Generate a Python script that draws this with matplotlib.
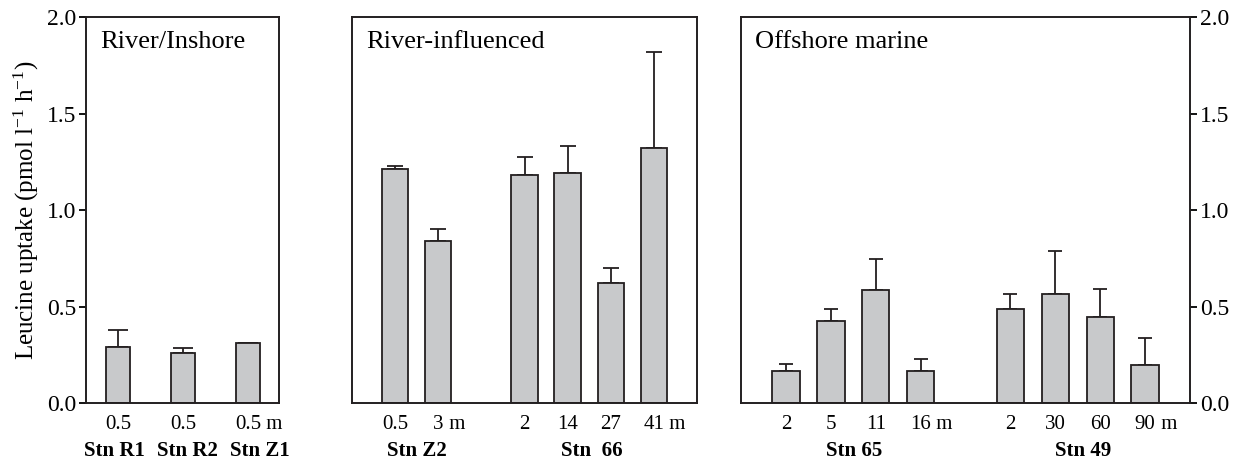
import matplotlib
matplotlib.use("Agg")
import matplotlib.pyplot as plt
import numpy as np

plt.rcParams['font.family'] = ['Liberation Serif', 'DejaVu Serif']
plt.rcParams['mathtext.fontset'] = 'custom'
plt.rcParams['mathtext.rm'] = 'Liberation Serif'
plt.rcParams['mathtext.it'] = 'Liberation Serif:italic'

# ---------------- data ----------------
# Panel 1: River/Inshore
p1_pos = [0, 1, 2]
p1_labels = ["0.5", "0.5", "0.5"]
p1_vals = [0.29, 0.26, 0.31]
p1_err = [0.09, 0.027, 0.0]
p1_stations = ["Stn R1", "Stn R2", "Stn Z1"]
p1_station_pos = [-0.05, 1.07, 2.18]

# Panel 2: River-influenced
p2_pos = [0, 1, 3, 4, 5, 6]
p2_labels = ["0.5", "3", "2", "14", "27", "41"]
p2_vals = [1.21, 0.84, 1.18, 1.19, 0.62, 1.32]
p2_err = [0.02, 0.06, 0.095, 0.14, 0.08, 0.50]
p2_stations = ["Stn Z2", "Stn  66"]
p2_station_pos = [0.5, 4.55]

# Panel 3: Offshore marine
p3_pos = [0, 1, 2, 3, 5, 6, 7, 8]
p3_labels = ["2", "5", "11", "16", "2", "30", "60", "90"]
p3_vals = [0.165, 0.425, 0.585, 0.165, 0.485, 0.565, 0.445, 0.195]
p3_err = [0.035, 0.062, 0.16, 0.062, 0.08, 0.223, 0.147, 0.143]
p3_stations = ["Stn 65", "Stn 49"]
p3_station_pos = [1.52, 6.62]

panel_titles = ["River/Inshore", "River-influenced", "Offshore marine"]
yticks = [0.0, 0.5, 1.0, 1.5, 2.0]

BAR_COLOR = '#c8c9cb'
EDGE = '#231f20'

fig = plt.figure(figsize=(12.4, 4.62), dpi=100)
bottom, height = 0.1277, 0.8355
ax1 = fig.add_axes([0.0694, bottom, 0.1556, height])
ax2 = fig.add_axes([0.2839, bottom, 0.2782, height])
ax3 = fig.add_axes([0.5976, bottom, 0.3621, height])

panels = [
    (ax1, p1_pos, p1_labels, p1_vals, p1_err, p1_stations, p1_station_pos, (-0.49, 2.48), 0.37, 7, [2]),
    (ax2, p2_pos, p2_labels, p2_vals, p2_err, p2_stations, p2_station_pos, (-1.0, 7.0), 0.61, 5.5, [1, 5]),
    (ax3, p3_pos, p3_labels, p3_vals, p3_err, p3_stations, p3_station_pos, (-1.0, 9.0), 0.61, 5, [3, 7]),
]

for i, (ax, pos, labels, vals, err, stations, spos, xlim, width, cap, m_idx) in enumerate(panels):
    ax.bar(pos, vals, width=width, color=BAR_COLOR, edgecolor=EDGE, linewidth=1.3, zorder=2)
    e = np.array(err)
    ax.errorbar(pos, vals, yerr=[np.zeros_like(e), e], fmt='none', ecolor=EDGE,
                elinewidth=1.3, capsize=cap, capthick=1.3, zorder=1)
    ax.set_xlim(*xlim)
    ax.set_ylim(0, 2.0)
    for sp in ax.spines.values():
        sp.set_linewidth(1.4)
        sp.set_color(EDGE)
    ax.set_xticks(pos)
    ax.set_xticklabels(labels, fontsize=15)
    ax.tick_params(axis='x', length=0, pad=8.5)
    ax.set_yticks(yticks)
    if i == 0:
        ax.set_yticklabels([f"{t:.1f}" for t in yticks], fontsize=17)
        ax.tick_params(axis='y', direction='out', length=5, width=1.3, pad=2)
        ax.set_ylabel("Leucine uptake (pmol l$^{-1}$ h$^{-1}$)", fontsize=18, labelpad=4)
    elif i == 1:
        ax.tick_params(axis='y', length=0, labelleft=False)
    else:
        ax.yaxis.tick_right()
        ax.set_yticklabels([f"{t:.1f}" for t in yticks], fontsize=17)
        ax.tick_params(axis='y', direction='out', length=5, width=1.3, pad=2)
    ax.annotate(panel_titles[i], xy=(0, 1), xycoords='axes fraction',
                xytext=(10, -10), textcoords='offset points', fontsize=19,
                ha='left', va='top')
    for s, sp_ in zip(stations, spos):
        ax.text(sp_, -0.124, s, transform=ax.get_xaxis_transform(), fontsize=15,
                fontweight='bold', ha='center', va='center')

fig.canvas.draw()
for (ax, pos, labels, vals, err, stations, spos, xlim, width, cap, m_idx) in panels:
    tls = ax.get_xticklabels()
    for k in m_idx:
        ax.annotate(" m", xy=(1, 0), xycoords=tls[k], ha='left', va='bottom', fontsize=15,
                    annotation_clip=False)

fig.savefig("out.png", dpi=100)
